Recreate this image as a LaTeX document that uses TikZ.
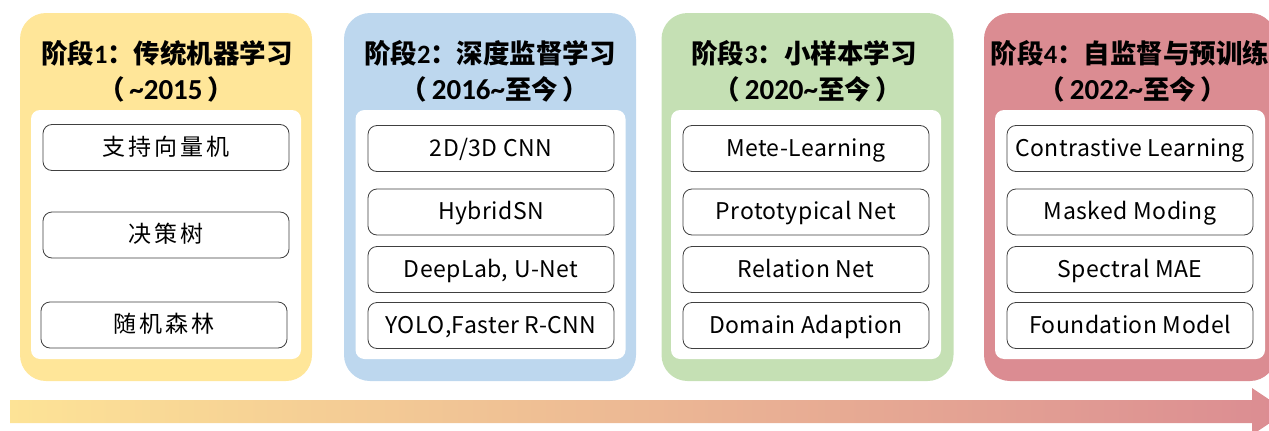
\documentclass[tikz,border=0pt]{standalone}
\usepackage{fontspec}
\setmainfont{Noto Sans CJK SC}
\newfontfamily\lat{Carlito}
\newfontfamily\cjkwide{Noto Sans CJK SC}[LetterSpace=14]
\newfontfamily\latwide{Noto Sans CJK SC}[LetterSpace=2]
\definecolor{cA}{RGB}{255,230,153}
\definecolor{cB}{RGB}{189,215,238}
\definecolor{cC}{RGB}{197,224,180}
\definecolor{cD}{RGB}{219,140,146}
\definecolor{gA}{RGB}{253,227,150}
\definecolor{gB}{RGB}{238,197,152}
\definecolor{gC}{RGB}{219,140,146}
\definecolor{bord}{RGB}{64,64,64}
\tikzset{
  panel/.style={draw=none, rounded corners=26pt, minimum width=292pt, minimum height=368pt, inner sep=0pt},
  innerbox/.style={draw=none, fill=white, rounded corners=9pt, minimum width=270pt, minimum height=249pt, inner sep=0pt},
  item/.style={draw=bord, line width=0.8pt, fill=white, rounded corners=9pt, minimum width=246pt, minimum height=46pt, inner sep=0pt, text height=20pt, text depth=5pt, font=\latwide\fontsize{23}{25}\selectfont},
  citem/.style={item, font=\cjkwide\fontsize{23}{25}\selectfont},
  ttl/.style={font=\bfseries\fontsize{26.5}{29}\selectfont, inner sep=0pt},
  yr/.style={font=\bfseries\fontsize{26.5}{29}\selectfont, inner sep=0pt}
}
\newcommand{\dg}[1]{{\lat\fontsize{29}{30}\selectfont #1}}
\begin{document}
\begin{tikzpicture}[x=1pt,y=-1pt]
\useasboundingbox (0,0) rectangle (1269,431);
\clip (0,0) rectangle (1269,431);
% panels
\node[panel, fill=cA] (p1) at (166,197) {};
\node[panel, fill=cB] (p2) at (490,197) {};
\node[panel, fill=cC] (p3) at (807.5,197) {};
\node[panel, fill=cD] (p4) at (1130,197) {};
\node[innerbox] (w1) at (166,234.5) {};
\node[innerbox] (w2) at (490.5,234.5) {};
\node[innerbox] (w3) at (806,234.5) {};
\node[innerbox] (w4) at (1130,234.5) {};
% titles
\node[ttl] (t1) at (167,53) {阶段{\lat 1}：传统机器学习};
\node[yr] (d1) at (166,89) {（\,\dg{\textasciitilde 2015}\,）};
\node[ttl] (t2) at (490,53) {阶段{\lat 2}：深度监督学习};
\node[yr] (d2) at (495,89) {（\,\dg{2016\textasciitilde}至今\,）};
\node[ttl] (t3) at (804,53) {阶段{\lat 3}：小样本学习};
\node[yr] (d3) at (808,89) {（\,\dg{2020\textasciitilde}至今\,）};
\node[ttl] (t4) at (1130,53) {阶段{\lat 4}：自监督与预训练};
\node[yr] (d4) at (1133,89) {（\,\dg{2022\textasciitilde}至今\,）};
% stage 1
\node[citem] (a1) at (166,147.5) {支持向量机};
\node[citem] (a2) at (166,235) {决策树};
\node[citem] (a3) at (164,325) {随机森林};
% stage 2
\node[item] (b1) at (491,148.5) {2D/3D CNN};
\node[item] (b2) at (491,212) {HybridSN};
\node[item] (b3) at (491,269.5) {DeepLab, U-Net};
\node[item] (b4) at (491,325.5) {YOLO,Faster R-CNN};
% stage 3
\node[item] (c1) at (806,148.5) {Mete-Learning};
\node[item] (c2) at (806,212) {Prototypical Net};
\node[item] (c3) at (806,269.5) {Relation Net};
\node[item] (c4) at (806,325.5) {Domain Adaption};
% stage 4
\node[item] (e1) at (1130,148.5) {Contrastive Learning};
\node[item] (e2) at (1130,212) {Masked Moding};
\node[item] (e3) at (1130,269.5) {Spectral MAE};
\node[item] (e4) at (1130,325.5) {Foundation Model};
% timeline arrow
\shade[left color=gA, middle color=gB, right color=gC]
  (10,400) -- (1252,400) -- (1252,388) -- (1287,411.5) -- (1252,435) -- (1252,423) -- (10,423) -- cycle;
\end{tikzpicture}
\end{document}
